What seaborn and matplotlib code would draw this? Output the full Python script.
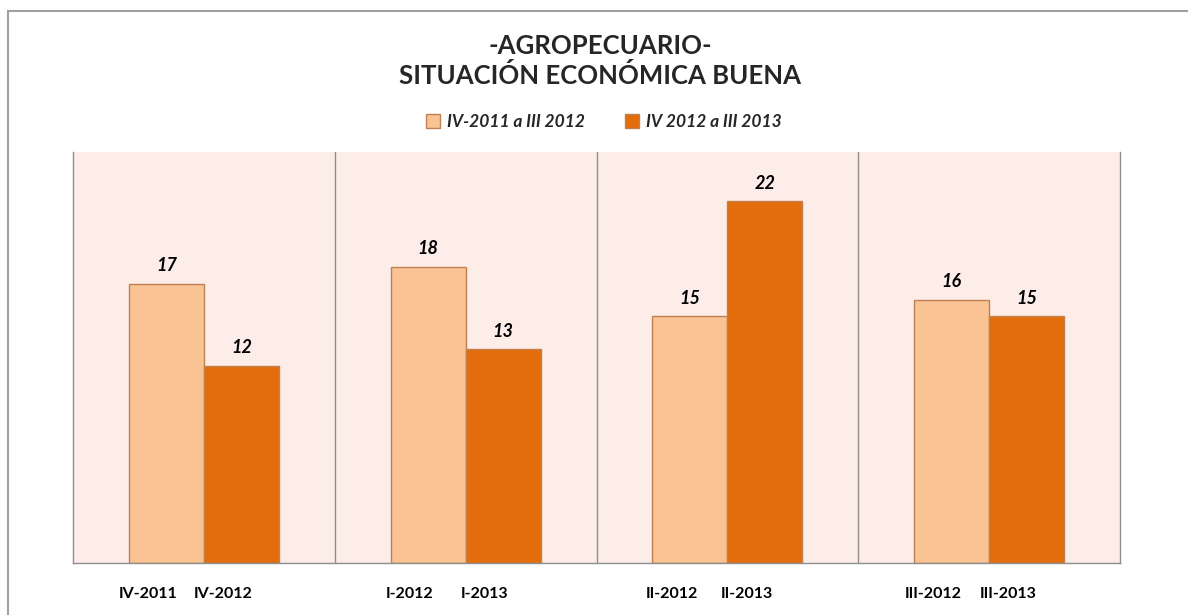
import matplotlib
matplotlib.use("Agg")
import matplotlib.pyplot as plt
import seaborn as sns
import pandas as pd
from matplotlib.patches import Rectangle

groups = ["G1", "G2", "G3", "G4"]
series = ["IV-2011 a III 2012", "IV 2012 a III 2013"]
values_a = [17, 18, 15, 16]
values_b = [12, 13, 22, 15]
labels_a = ["IV-2011", "I-2012", "II-2012", "III-2012"]
labels_b = ["IV-2012", "I-2013", "II-2013", "III-2013"]
title = "-AGROPECUARIO-\nSITUACIÓN ECONÓMICA BUENA"

colors = ["#F9C394", "#E36C0B"]
edge = "#C0804F"
bg = "#FCEDE9"
grid_c = "#8E8E8E"

df = pd.DataFrame({
    "grupo": groups * 2,
    "serie": [series[0]] * 4 + [series[1]] * 4,
    "valor": values_a + values_b,
})

sns.set_theme(style="white")
plt.rcParams["font.family"] = ["Lato", "DejaVu Sans"]

fig = plt.figure(figsize=(11.88, 6.15), dpi=100)
ax = fig.add_axes([73 / 1188, 1 - 563 / 615, (1120 - 73) / 1188, (563 - 152) / 615])
ax.set_facecolor(bg)

W = 0.573
sns.barplot(data=df, x="grupo", y="valor", hue="serie", hue_order=series,
            palette=colors, width=W, edgecolor=edge, linewidth=1.0,
            saturation=1, ax=ax, legend=True)

ax.set_ylim(0, 25)
ax.set_xlim(-0.5, 3.5)
ax.set_yticks([])
ax.set_xlabel("")
ax.set_ylabel("")

for c in ax.containers:
    ax.bar_label(c, fmt="%d", padding=7, fontsize=13, fontweight="bold",
                 fontstyle="italic", color="black")

for xv in [0.5, 1.5, 2.5]:
    ax.axvline(xv, color=grid_c, lw=1.0, zorder=0.5)

for s in ["left", "right", "bottom"]:
    ax.spines[s].set_color(grid_c)
    ax.spines[s].set_linewidth(1.0)
    ax.spines[s].set_visible(True)
ax.spines["top"].set_visible(False)

# tick labels under each bar
pos = []
labs = []
for i in range(len(groups)):
    pos += [i - W / 4 - 0.07, i + W / 4 - 0.07]
    labs += [labels_a[i], labels_b[i]]
ax.set_xticks(pos)
ax.set_xticklabels(labs, fontsize=11.5, fontweight="bold", color="black")
ax.tick_params(axis="x", length=0, pad=17)

handles, _ = ax.get_legend_handles_labels()
ax.legend(handles, series, loc="center", bbox_to_anchor=(604 / 1188, 1 - 122 / 615),
          bbox_transform=fig.transFigure, ncol=2, frameon=False,
          prop={"size": 12.5, "weight": "bold", "style": "italic"},
          handlelength=0.8, handleheight=0.8, handletextpad=0.4, columnspacing=2.3)

fig.text(600 / 1188, 1 - 61 / 615, title, ha="center", va="center",
         fontsize=18.5, fontweight="bold", linespacing=1.25)

fig.patches.append(Rectangle((8 / 1188, -0.1), 1.2, 1 - 11 / 615 + 0.1,
                             transform=fig.transFigure, fill=False,
                             edgecolor="#A0A0A0", lw=1.5, zorder=0))

fig.savefig("out.png", dpi=100, facecolor="white")
